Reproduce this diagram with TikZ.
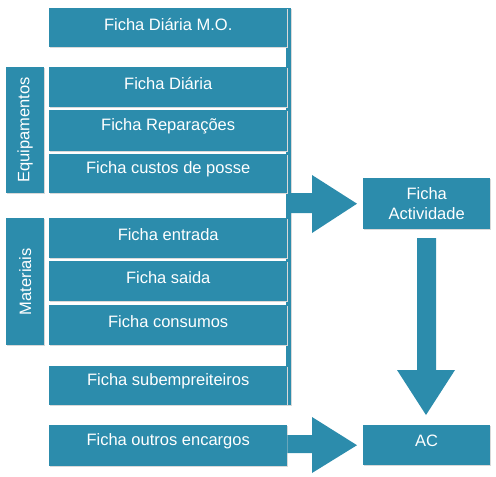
\documentclass[tikz,border=0pt]{standalone}
\usepackage{fontspec}
\setmainfont{Liberation Sans}
\usetikzlibrary{calc}
\definecolor{teal1}{RGB}{44,140,172}
\tikzset{
  card/.style={fill=teal1, inner sep=0pt, anchor=north west},
  cardtext/.style={text=white, inner sep=0pt, align=center,
    font=\fontsize{16.5}{19.5}\selectfont},
  sidelabel/.style={text=white, rotate=90, font=\fontsize{16.5}{19.5}\selectfont},
  blockarrow/.style={fill=teal1, draw=none},
  shadowfill/.style={fill=black!15},
}
\newcommand{\cardat}[7]{% name, x1, y1, x2, y2, text, text shift up
  \fill[shadowfill] (#2+1.2,#3+1.2) rectangle (#4+1.2,#5+1.2);
  \node[card, minimum width=#4pt-#2pt, minimum height=#5pt-#3pt] (#1) at (#2,#3) {};
  \node[cardtext] (#1-t) at ($(#1.center)+(0,-#7)$) {#6};
}
\begin{document}
\begin{tikzpicture}[x=1pt,y=-1pt]
\useasboundingbox (0,0) rectangle (496,477);
% spine
\fill[shadowfill] (288.2,9.2) rectangle (292.2,406.2);
\fill[teal1] (286,8) rectangle (291,405);
\cardat{mo}{49}{8}{287}{47}{Ficha Diária M.O.}{3.5}
\cardat{fd}{49}{67}{287}{107}{Ficha Diária}{4}
\cardat{fr}{49}{110}{287}{151}{Ficha Reparações}{4}
\cardat{fc}{49}{154}{287}{193}{Ficha custos de posse}{4}
\cardat{fe}{49}{218}{287}{258}{Ficha entrada}{4}
\cardat{fs}{49}{261}{287}{301}{Ficha saida}{4}
\cardat{fco}{49}{305}{287}{345}{Ficha consumos}{4}
\cardat{fsub}{49}{366}{287}{405}{Ficha subempreiteiros}{4}
\cardat{foe}{49}{425}{287}{466}{Ficha outros encargos}{4.5}
\cardat{fa}{363}{178}{490}{229}{Ficha\\Actividade}{0}
\cardat{ac}{363}{425}{490}{465}{AC}{4.5}
% side labels
\cardat{eq}{6}{67}{44}{193}{}{0}
\node[sidelabel] at (eq.center) {Equipamentos};
\cardat{mat}{6}{218}{44}{345}{}{0}
\node[sidelabel] at (mat.center) {Materiais};
% arrow spine -> Ficha Actividade
\coordinate (t1) at ($(fa.west)+(-6,0)$);
\fill[blockarrow] (290,193) -- (312,193) -- (312,175) -- (t1) -- (312,233) -- (312,213) -- (290,213) -- cycle;
% arrow Ficha outros encargos -> AC
\coordinate (t2) at ($(ac.west)+(-6,0)$);
\fill[blockarrow] (foe.east |- 0,435) -- (312,435) -- (312,417) -- (t2) -- (312,473) -- (312,453) -- (foe.east |- 0,453) -- cycle;
% arrow Ficha Actividade -> AC
\coordinate (t3) at ($(ac.north)+(0,-10)$);
\fill[blockarrow] (417,238) -- (436,238) -- (436,370) -- (455,370) -- (t3 -| 426,0) -- (397,370) -- (417,370) -- cycle;
\end{tikzpicture}
\end{document}
